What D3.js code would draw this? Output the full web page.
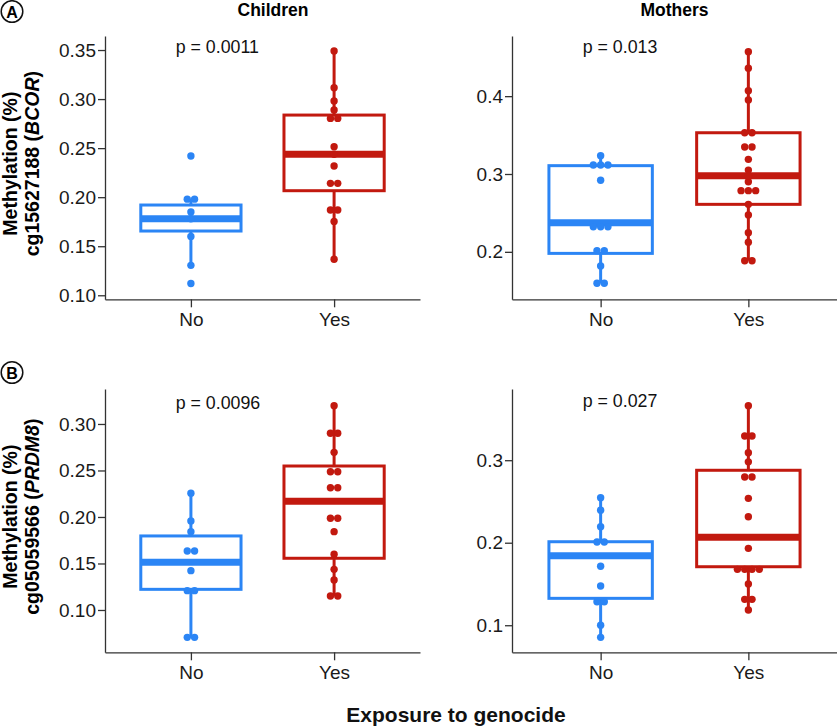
<!DOCTYPE html>
<html><head><meta charset="utf-8">
<script src="https://cdn.jsdelivr.net/npm/d3@7"></script>
<style>body{margin:0;background:#fff} svg{display:block;font-family:"Liberation Sans",Arial,Helvetica,sans-serif}</style>
</head><body><svg id="c" width="837" height="726"></svg>
<script>
// ---------------- data ----------------
const groups = ["No", "Yes"];
const colTitles = ["Children", "Mothers"];
const rowTags = ["A", "B"];
const probeIds = ["cg15627188", "cg05059566"];
const geneNames = ["BCOR", "PRDM8"];
const pLabels = ["p = 0.0011", "p = 0.013", "p = 0.0096", "p = 0.027"];
const xTitle = "Exposure to genocide";
const yTitleLine1 = "Methylation (%)";

const ticksChildrenBCOR = [0.10, 0.15, 0.20, 0.25, 0.30, 0.35];
const ticksMothersBCOR = [0.2, 0.3, 0.4];
const ticksChildrenPRDM8 = [0.10, 0.15, 0.20, 0.25, 0.30];
const ticksMothersPRDM8 = [0.1, 0.2, 0.3];

// individual methylation values (dot plot)
const dotsChildrenBCOR_No = [0.112, 0.1305, 0.160, 0.178, 0.185, 0.198, 0.198, 0.242];
const dotsChildrenBCOR_Yes = [0.1367, 0.1753, 0.1869, 0.1869, 0.2141, 0.2141, 0.2318, 0.2437, 0.2515, 0.2803, 0.2803, 0.2888, 0.298, 0.3116, 0.349];
const dotsMothersBCOR_No = [0.1596, 0.1596, 0.1818, 0.2015, 0.2015, 0.2323, 0.2323, 0.2323, 0.292, 0.3116, 0.3116, 0.3116, 0.3235];
const dotsMothersBCOR_Yes = [0.1886, 0.1886, 0.2123, 0.2246, 0.2473, 0.261, 0.2786, 0.2786, 0.2786, 0.290, 0.2978, 0.305, 0.3188, 0.3347, 0.3347, 0.353, 0.353, 0.395, 0.407, 0.4358, 0.457];
const dotsChildrenPRDM8_No = [0.0706, 0.0706, 0.1208, 0.1208, 0.1423, 0.1634, 0.1634, 0.1842, 0.1957, 0.2255];
const dotsChildrenPRDM8_Yes = [0.115, 0.115, 0.1323, 0.1437, 0.160, 0.1842, 0.1986, 0.1986, 0.2315, 0.2315, 0.2487, 0.2487, 0.2695, 0.290, 0.290, 0.3197];
const dotsMothersPRDM8_No = [0.0853, 0.100, 0.1285, 0.1285, 0.1475, 0.1714, 0.2008, 0.2008, 0.2194, 0.2393, 0.2545];
const dotsMothersPRDM8_Yes = [0.1184, 0.1314, 0.1314, 0.150, 0.1677, 0.1677, 0.1677, 0.1677, 0.1932, 0.2315, 0.2538, 0.2796, 0.2796, 0.298, 0.309, 0.3293, 0.3293, 0.366];

// box statistics: [lower whisker, Q1, median, Q3, upper whisker]
const boxChildrenBCOR_No = [0.1305, 0.1655, 0.178, 0.192, 0.198];
const boxChildrenBCOR_Yes = [0.1367, 0.2066, 0.2437, 0.2837, 0.349];
const boxMothersBCOR_No = [0.1596, 0.198, 0.2375, 0.3107, 0.3235];
const boxMothersBCOR_Yes = [0.1886, 0.261, 0.2978, 0.353, 0.457];
const boxChildrenPRDM8_No = [0.0706, 0.1222, 0.1513, 0.1796, 0.2255];
const boxChildrenPRDM8_Yes = [0.115, 0.1556, 0.2168, 0.2548, 0.3197];
const boxMothersPRDM8_No = [0.0853, 0.1326, 0.1842, 0.2012, 0.2545];
const boxMothersPRDM8_Yes = [0.1184, 0.1709, 0.2065, 0.2878, 0.366];

// ---------------- layout ----------------
const colors = {No: "#2b85f5", Yes: "#c2190f"};
const panels = [
  {row: 0, col: 0, x0: 105, x1: 420, yTop: 36, yBot: 299.3, domain: [0.0959, 0.3643], ticks: ticksChildrenBCOR, fmt: ".2f",
   dots: {No: dotsChildrenBCOR_No, Yes: dotsChildrenBCOR_Yes}, box: {No: boxChildrenBCOR_No, Yes: boxChildrenBCOR_Yes}, p: pLabels[0], pY: 53.3},
  {row: 0, col: 1, x0: 512, x1: 837, yTop: 36, yBot: 299.3, domain: [0.139, 0.4773], ticks: ticksMothersBCOR, fmt: ".1f",
   dots: {No: dotsMothersBCOR_No, Yes: dotsMothersBCOR_Yes}, box: {No: boxMothersBCOR_No, Yes: boxMothersBCOR_Yes}, p: pLabels[1], pY: 53.3},
  {row: 1, col: 0, x0: 105, x1: 420, yTop: 389, yBot: 652.3, domain: [0.0545, 0.3376], ticks: ticksChildrenPRDM8, fmt: ".2f",
   dots: {No: dotsChildrenPRDM8_No, Yes: dotsChildrenPRDM8_Yes}, box: {No: boxChildrenPRDM8_No, Yes: boxChildrenPRDM8_Yes}, p: pLabels[2], pY: 409},
  {row: 1, col: 1, x0: 512, x1: 837, yTop: 389, yBot: 652.3, domain: [0.0672, 0.3863], ticks: ticksMothersPRDM8, fmt: ".1f",
   dots: {No: dotsMothersPRDM8_No, Yes: dotsMothersPRDM8_Yes}, box: {No: boxMothersPRDM8_No, Yes: boxMothersPRDM8_Yes}, p: pLabels[3], pY: 406.7}
];

const svg = d3.select("#c");
const dotR = 3.7, dotStep = 7.3;

panels.forEach(P => {
  const g = svg.append("g");
  const y = d3.scaleLinear().domain(P.domain).range([P.yBot, P.yTop]);
  const x = d3.scalePoint().domain(groups).range([P.x0, P.x1]).padding(0.6);
  const bw = x.step() * 0.7;

  // axes
  const ya = g.append("g").attr("transform", `translate(${P.x0},0)`)
    .call(d3.axisLeft(y).tickValues(P.ticks).tickFormat(d3.format(P.fmt)).tickSize(7).tickSizeOuter(0).tickPadding(2));
  const xa = g.append("g").attr("transform", `translate(0,${P.yBot})`)
    .call(d3.axisBottom(x).tickSize(8).tickSizeOuter(0).tickPadding(5));
  [ya, xa].forEach(a => {
    a.select(".domain").attr("stroke", "#333").attr("stroke-width", 1.3);
    a.selectAll(".tick line").attr("stroke", "#333").attr("stroke-width", 1.3);
    a.selectAll(".tick text").attr("fill", "#1a1a1a").style("font-size", "19px")
      .style("font-family", "'Liberation Sans',Arial,sans-serif");
  });

  groups.forEach(grp => {
    const c = colors[grp];
    const [lo, q1, med, q3, hi] = P.box[grp];
    const cx = x(grp);
    g.append("line").attr("x1", cx).attr("x2", cx).attr("y1", y(lo)).attr("y2", y(q1))
      .attr("stroke", c).attr("stroke-width", 3);
    g.append("line").attr("x1", cx).attr("x2", cx).attr("y1", y(q3)).attr("y2", y(hi))
      .attr("stroke", c).attr("stroke-width", 3);
    g.append("rect").attr("x", cx - bw / 2).attr("y", y(q3)).attr("width", bw).attr("height", y(q1) - y(q3))
      .attr("fill", "#fff").attr("stroke", c).attr("stroke-width", 3);
    g.append("line").attr("x1", cx - bw / 2).attr("x2", cx + bw / 2).attr("y1", y(med)).attr("y2", y(med))
      .attr("stroke", c).attr("stroke-width", 7);
    // dots stacked horizontally, centred
    const bins = d3.groups(P.dots[grp], d => d);
    bins.forEach(([v, arr]) => {
      const k = arr.length;
      arr.forEach((d, i) => {
        g.append("circle").attr("cx", cx + (i - (k - 1) / 2) * dotStep).attr("cy", y(v)).attr("r", dotR).attr("fill", c);
      });
    });
  });

  // p-value label
  g.append("text").attr("x", P.x0 + 70.7).attr("y", P.pY).attr("fill", "#111")
    .style("font-size", "17.8px").text(P.p);

  // column titles
  if (P.row === 0) {
    g.append("text").attr("x", P.col === 0 ? 273 : (P.x0 + P.x1) / 2).attr("y", 16)
      .attr("text-anchor", "middle").style("font-size", "17.5px").style("font-weight", "bold").text(colTitles[P.col]);
  }
  // y titles + row tags
  if (P.col === 0) {
    const cy = (P.yTop + P.yBot) / 2 - 4;
    const t = g.append("text").attr("transform", `translate(0,${cy}) rotate(-90)`)
      .attr("text-anchor", "middle").style("font-size", "19.5px").style("font-weight", "bold");
    t.append("tspan").attr("x", 0).attr("y", 16.7).text(yTitleLine1);
    const t2 = t.append("tspan").attr("x", 0).attr("y", 39.3);
    t2.text(probeIds[P.row] + " (");
    t.append("tspan").style("font-style", "italic").text(geneNames[P.row]);
    t.append("tspan").text(")");
    const tagY = P.row === 0 ? 11.5 : 372.5;
    g.append("circle").attr("cx", 12).attr("cy", tagY).attr("r", 10.8).attr("fill", "none").attr("stroke", "#111").attr("stroke-width", 1.5);
    g.append("text").attr("x", 12).attr("y", tagY + 6).attr("text-anchor", "middle")
      .style("font-size", "16px").style("font-weight", "bold").text(rowTags[P.row]);
  }
});

svg.append("text").attr("x", 456).attr("y", 722).attr("text-anchor", "middle")
  .style("font-size", "21px").style("font-weight", "bold").attr("fill", "#111").text(xTitle);
</script></body></html>
